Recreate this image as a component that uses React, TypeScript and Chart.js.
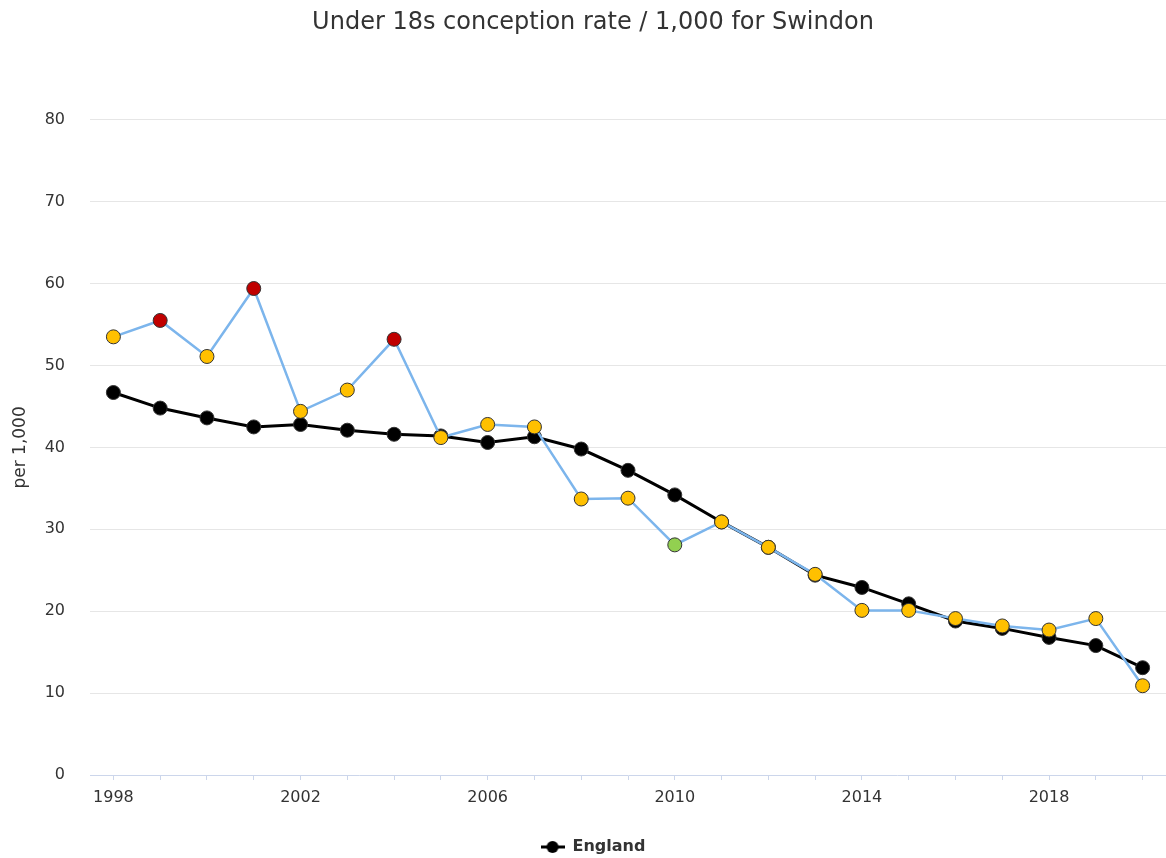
import React, { useEffect, useRef } from 'react';
import { Chart, registerables } from 'chart.js';

Chart.register(...registerables);

const years = ['1998', '1999', '2000', '2001', '2002', '2003', '2004', '2005', '2006', '2007', '2008', '2009', '2010', '2011', '2012', '2013', '2014', '2015', '2016', '2017', '2018', '2019', '2020'];
const swindon = [53.5, 55.5, 51.1, 59.4, 44.4, 47.0, 53.2, 41.2, 42.8, 42.5, 33.7, 33.8, 28.1, 30.9, 27.8, 24.5, 20.1, 20.1, 19.1, 18.2, 17.7, 19.1, 10.9];
const england = [46.7, 44.8, 43.6, 42.5, 42.8, 42.1, 41.6, 41.4, 40.6, 41.3, 39.8, 37.2, 34.2, 30.9, 27.8, 24.4, 22.9, 20.9, 18.8, 17.9, 16.8, 15.8, 13.1];
// comparison with England: 's' = similar, 'h' = significantly higher, 'l' = significantly lower
const significance = ['s', 'h', 's', 'h', 's', 's', 'h', 's', 's', 's', 's', 's', 'l', 's', 's', 's', 's', 's', 's', 's', 's', 's', 's'];
const shownYearLabels = ['1998', '2002', '2006', '2010', '2014', '2018'];
const yTicks = [0, 10, 20, 30, 40, 50, 60, 70, 80];

const sigColor: Record<string, string> = { s: '#ffc000', h: '#c00000', l: '#92d050' };
const FONT = '"DejaVu Sans", Verdana, sans-serif';

export default function App() {
  const ref = useRef<HTMLCanvasElement | null>(null);

  useEffect(() => {
    document.body.style.margin = '0';
    const canvas = ref.current;
    if (!canvas) return;

    const marker = document.createElement('canvas');
    marker.width = 24;
    marker.height = 14;
    const mctx = marker.getContext('2d');
    if (mctx) {
      mctx.strokeStyle = '#000';
      mctx.lineWidth = 3;
      mctx.beginPath();
      mctx.moveTo(0, 7);
      mctx.lineTo(24, 7);
      mctx.stroke();
      mctx.fillStyle = '#000';
      mctx.beginPath();
      mctx.arc(12, 7, 6, 0, Math.PI * 2);
      mctx.fill();
    }

    const chart = new Chart(canvas, {
      type: 'line',
      data: {
        labels: years,
        datasets: [
          {
            label: 'Swindon',
            data: swindon,
            borderColor: '#7cb5ec',
            borderWidth: 2.5,
            pointBackgroundColor: significance.map((s) => sigColor[s]),
            pointBorderColor: '#333',
            pointBorderWidth: 1,
            pointRadius: 7,
            tension: 0,
          },
          {
            label: 'England',
            data: england,
            borderColor: '#000',
            borderWidth: 3,
            pointBackgroundColor: '#000',
            pointBorderColor: '#333',
            pointBorderWidth: 1,
            pointRadius: 7,
            tension: 0,
          },
        ],
      },
      options: {
        responsive: false,
        animation: false,
        layout: { autoPadding: false, padding: { left: 20, right: 0, top: 0, bottom: -7 } },
        plugins: {
          tooltip: { enabled: false },
          title: {
            display: true,
            text: 'Under 18s conception rate / 1,000 for Swindon',
            color: '#333',
            font: { family: FONT, size: 24, weight: 'normal' },
            padding: { top: 8, bottom: 83 },
          },
          legend: {
            position: 'bottom',
            labels: {
              color: '#333',
              font: { family: FONT, size: 16, weight: 'bold' },
              padding: 3,
              usePointStyle: true,
              pointStyleWidth: 24,
              filter: (item) => item.text === 'England',
              generateLabels: (ch) => {
                const items = Chart.defaults.plugins.legend.labels.generateLabels(ch);
                return items.map((it) => ({ ...it, pointStyle: marker as any }));
              },
            },
          },
        },
        scales: {
          x: {
            offset: true,
            grid: {
              drawOnChartArea: false,
              drawTicks: true,
              tickLength: 5,
              color: '#ccd6eb',
              offset: false,
            },
            border: { display: true, color: '#ccd6eb', width: 1 },
            ticks: {
              autoSkip: false,
              maxRotation: 0,
              color: '#333',
              padding: 8,
              font: { family: FONT, size: 16 },
              callback: (_v, i) => (shownYearLabels.includes(years[i]) ? years[i] : ''),
            },
            afterFit: (scale) => {
              scale.height = 61;
            },
          },
          y: {
            min: yTicks[0],
            max: yTicks[yTicks.length - 1],
            afterBuildTicks: (scale) => {
              scale.ticks = yTicks.map((v) => ({ value: v }));
            },
            grid: {
              color: (ctx) => (ctx.tick && ctx.tick.value === 0 ? 'rgba(0,0,0,0)' : '#e6e6e6'),
              drawTicks: false,
            },
            border: { display: false },
            ticks: {
              color: '#333',
              padding: 25,
              font: { family: FONT, size: 16 },
            },
            title: {
              display: true,
              text: 'per 1,000',
              color: '#333',
              font: { family: FONT, size: 17 },
              padding: { top: -10, bottom: 0 },
            },
            afterFit: (scale) => {
              scale.width = 70;
            },
          },
        },
      },
    });

    return () => chart.destroy();
  }, []);

  return (
    <div style={{ width: 1166, height: 858 }}>
      <canvas ref={ref} width={1166} height={858} />
    </div>
  );
}
